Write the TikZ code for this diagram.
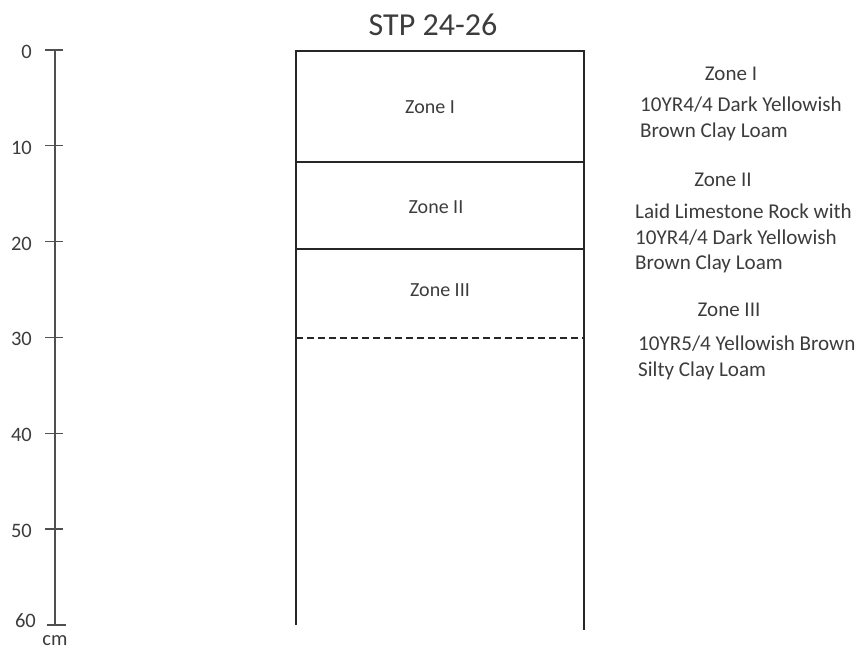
\documentclass[tikz,border=0pt]{standalone}
\usepackage{fontspec}
\setmainfont{Carlito}
\usetikzlibrary{positioning}
\definecolor{inkgray}{RGB}{60,60,60}
\definecolor{rulegray}{RGB}{80,80,80}

\begin{document}
\begin{tikzpicture}[x=1pt, y=-1pt,
  scalenum/.style={font=\fontsize{20.5}{24}\selectfont, text=inkgray, anchor=east, inner sep=0pt},
  zonelbl/.style={font=\fontsize{20}{24}\selectfont, text=inkgray, inner sep=0pt},
  desc/.style={font=\fontsize{21.1}{25.3}\selectfont, text=inkgray, align=left, anchor=north west, inner sep=0pt},
  hline/.style={line width=1.1pt, draw=black!85}
]
  \useasboundingbox (0,0) rectangle (862,652);

  % depth scale
  \draw[line width=1.3pt, draw=rulegray] (55,50) coordinate (top) -- (55,625) coordinate (bot);
  \foreach \d in {0,10,...,50} {
    \draw[line width=1.2pt, draw=rulegray] (45,50+\d*9.58) -- (63,50+\d*9.58);
    \node[scalenum] (n\d) at (32,52+\d*9.58) {\d};
  }
  \draw[line width=1.2pt, draw=rulegray] (47,625) -- (66,625);
  \node[scalenum] (n60) at (36,621) {60};
  \node[scalenum, anchor=center] (unit) at (55,641) {cm};

  % title
  \node[font=\fontsize{32}{36}\selectfont, text=inkgray] (title) at (433,25) {STP 24-26};

  % test pit column
  \draw[hline] (296,625) coordinate (bl) -- (296,51) coordinate (tl)
    -- (584,51) coordinate (tr) -- (584,630) coordinate (br);
  \draw[hline] (296,162) coordinate (a1) -- (584,162) coordinate (a2);
  \draw[hline] (296,249) coordinate (b1) -- (584,249) coordinate (b2);
  \draw[hline, dash pattern=on 7pt off 4pt] (296,338) coordinate (c1) -- (584,338) coordinate (c2);

  \node[zonelbl] (z1) at (430,107) {Zone I};
  \node[zonelbl] (z2) at (436,207) {Zone II};
  \node[zonelbl] (z3) at (440,290) {Zone III};

  % descriptions
  \node[zonelbl, font=\fontsize{21}{24}\selectfont] (d1t) at (731,74) {Zone I};
  \node[desc] (d1) at (640,97) {10YR4/4 Dark Yellowish\\Brown Clay Loam};
  \node[zonelbl, font=\fontsize{21}{24}\selectfont] (d2t) at (723,180) {Zone II};
  \node[desc] (d2) at (635,204) {Laid Limestone Rock with\\10YR4/4 Dark Yellowish\\Brown Clay Loam};
  \node[zonelbl, font=\fontsize{21}{24}\selectfont] (d3t) at (729,310) {Zone III};
  \node[desc] (d3) at (638,336) {10YR5/4 Yellowish Brown\\Silty Clay Loam};
\end{tikzpicture}
\end{document}
